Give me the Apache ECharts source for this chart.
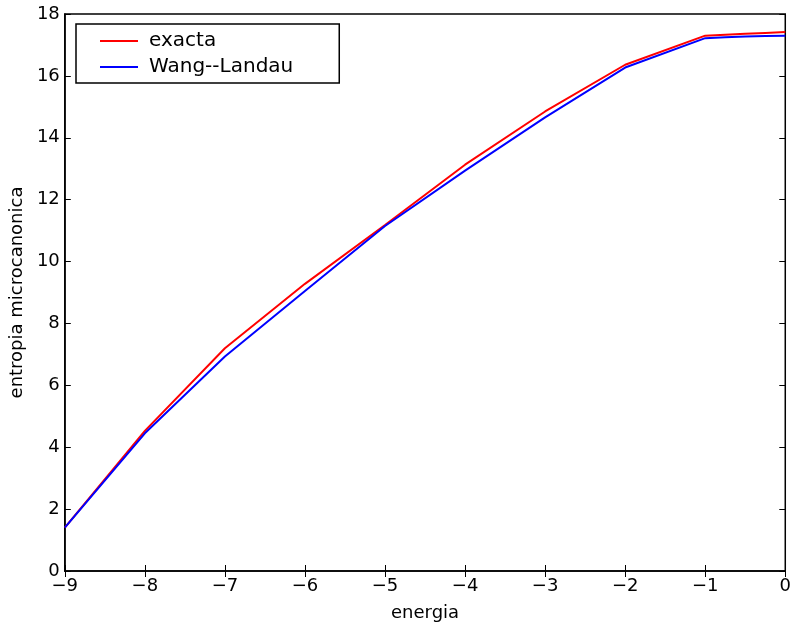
<!DOCTYPE html>
<html><head><meta charset="utf-8">
<script src="https://cdn.jsdelivr.net/npm/echarts@6/dist/echarts.min.js"></script>
<style>html,body{margin:0;padding:0;background:#fff}#c{width:794px;height:627px}</style>
</head><body><div id="c"></div>
<script>
const energia = [-9, -8, -7, -6, -5, -4, -3, -2, -1, -0.75, -0.5, -0.25, 0];
const exacta = [1.40, 4.53, 7.20, 9.28, 11.18, 13.13, 14.85, 16.36, 17.30, 17.33, 17.36, 17.39, 17.42];
const wangLandau = [1.40, 4.45, 6.93, 9.05, 11.15, 12.94, 14.66, 16.27, 17.22, 17.25, 17.27, 17.29, 17.30];
const xTicks = [-9, -8, -7, -6, -5, -4, -3, -2, -1, 0];
const yTicks = [0, 2, 4, 6, 8, 10, 12, 14, 16, 18];

const font = 'DejaVu Sans';
const chart = echarts.init(document.getElementById('c'));
const fmt = v => (v < 0 ? '\u2212' + Math.abs(v) : String(v));
const tickCommon = {show: true, inside: true, length: 6, lineStyle: {color: '#000', width: 1}};
chart.setOption({
  animation: false,
  grid: {left: 62, right: 5, top: 14, bottom: 49, show: true, borderColor: '#000', borderWidth: 1.5},
  legend: {
    orient: 'vertical', left: 76, top: 24,
    padding: [7, 46, 6, 24], itemGap: 6,
    borderColor: '#000', borderWidth: 1.5, backgroundColor: '#fff',
    icon: 'rect', itemWidth: 38, itemHeight: 2,
    textStyle: {fontFamily: font, fontSize: 20, color: '#000', padding: [0, 0, 0, 6]},
    data: [{name: 'exacta'}, {name: 'Wang--Landau'}]
  },
  xAxis: [{
    type: 'value', min: -9, max: 0, interval: 1,
    name: 'energia', nameLocation: 'middle', nameGap: 33,
    nameTextStyle: {fontFamily: font, fontSize: 18, color: '#000'},
    axisLine: {show: true, onZero: false, lineStyle: {color: '#000', width: 1.5}},
    axisTick: tickCommon,
    axisLabel: {fontFamily: font, fontSize: 18, color: '#000', margin: 6, formatter: fmt},
    splitLine: {show: false}
  }, {
    type: 'value', position: 'top', min: -9, max: 0, interval: 1,
    axisLine: {show: false}, axisTick: tickCommon, axisLabel: {show: false}, splitLine: {show: false}
  }],
  yAxis: [{
    type: 'value', min: 0, max: 18, interval: 2,
    name: 'entropia microcanonica', nameLocation: 'middle', nameGap: 38,
    nameTextStyle: {fontFamily: font, fontSize: 18, color: '#000'},
    axisLine: {show: true, onZero: false, lineStyle: {color: '#000', width: 1.5}},
    axisTick: tickCommon,
    axisLabel: {fontFamily: font, fontSize: 18, color: '#000', margin: 5},
    splitLine: {show: false}
  }, {
    type: 'value', position: 'right', min: 0, max: 18, interval: 2,
    axisLine: {show: false}, axisTick: tickCommon, axisLabel: {show: false}, splitLine: {show: false}
  }],
  series: [{
    name: 'exacta', type: 'line', symbol: 'none', color: '#ff0000',
    lineStyle: {width: 2, color: '#ff0000'},
    data: energia.map((e, i) => [e, exacta[i]])
  }, {
    name: 'Wang--Landau', type: 'line', symbol: 'none', color: '#0000ff',
    lineStyle: {width: 2, color: '#0000ff'},
    data: energia.map((e, i) => [e, wangLandau[i]])
  }]
});
</script></body></html>
